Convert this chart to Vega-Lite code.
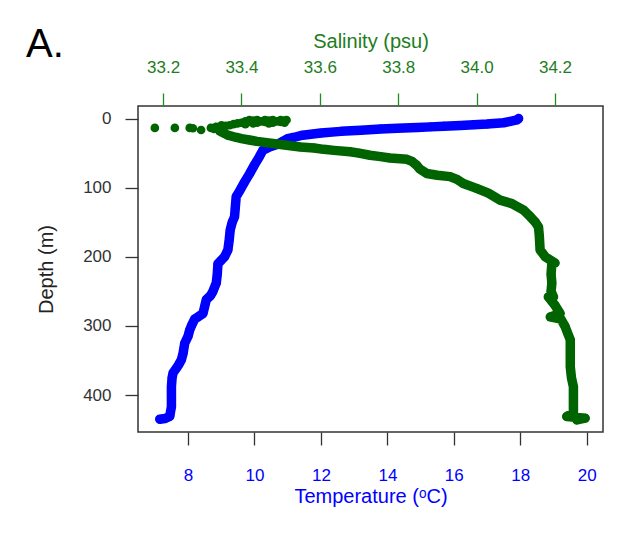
{
  "$schema": "https://vega.github.io/schema/vega-lite/v6.json",
  "autosize": "none",
  "width": 465,
  "height": 326,
  "padding": {"left": 138, "top": 106, "right": 29, "bottom": 103},
  "background": "white",
  "config": {
    "font": "Liberation Sans",
    "view": {"stroke": "#333333", "strokeWidth": 1.5},
    "axis": {"grid": false, "domain": false, "labelFont": "Liberation Sans", "titleFont": "Liberation Sans", "titleFontWeight": "normal"}
  },
  "title": {"text": "A.", "anchor": "start", "frame": "group", "fontSize": 40, "fontWeight": "normal", "font": "Liberation Sans", "color": "#000000", "dx": -112, "dy": 44, "offset": 10},
  "datasets": {
    "temperature": [
      {"depth": 0, "temp": 17.95}, {"depth": 2, "temp": 17.9}, {"depth": 4, "temp": 17.7}, {"depth": 6, "temp": 17.5},
      {"depth": 8, "temp": 17.0}, {"depth": 9, "temp": 16.6}, {"depth": 10, "temp": 16.2}, {"depth": 11, "temp": 15.7},
      {"depth": 12, "temp": 15.3}, {"depth": 13, "temp": 14.9}, {"depth": 14, "temp": 14.3}, {"depth": 15, "temp": 13.8},
      {"depth": 17, "temp": 13.2}, {"depth": 18.5, "temp": 12.6}, {"depth": 21, "temp": 12.0}, {"depth": 24, "temp": 11.45},
      {"depth": 27, "temp": 11.2}, {"depth": 29, "temp": 11.0}, {"depth": 33, "temp": 10.85}, {"depth": 37, "temp": 10.7},
      {"depth": 41, "temp": 10.45}, {"depth": 46, "temp": 10.25}, {"depth": 55, "temp": 10.15}, {"depth": 67, "temp": 10.0},
      {"depth": 80, "temp": 9.85}, {"depth": 92, "temp": 9.7}, {"depth": 104, "temp": 9.56}, {"depth": 113, "temp": 9.45},
      {"depth": 130, "temp": 9.42}, {"depth": 142, "temp": 9.4}, {"depth": 150, "temp": 9.33}, {"depth": 161, "temp": 9.27},
      {"depth": 175, "temp": 9.24}, {"depth": 190, "temp": 9.2}, {"depth": 200, "temp": 9.1}, {"depth": 205, "temp": 9.0},
      {"depth": 210, "temp": 8.9}, {"depth": 225, "temp": 8.88}, {"depth": 238, "temp": 8.85}, {"depth": 250, "temp": 8.75},
      {"depth": 256, "temp": 8.68}, {"depth": 262, "temp": 8.55}, {"depth": 272, "temp": 8.5}, {"depth": 282, "temp": 8.45},
      {"depth": 287, "temp": 8.3}, {"depth": 290, "temp": 8.2}, {"depth": 300, "temp": 8.1}, {"depth": 306, "temp": 8.05},
      {"depth": 315, "temp": 8.0}, {"depth": 325, "temp": 7.9}, {"depth": 340, "temp": 7.85}, {"depth": 349, "temp": 7.8},
      {"depth": 356, "temp": 7.72}, {"depth": 361, "temp": 7.65}, {"depth": 368, "temp": 7.55}, {"depth": 375, "temp": 7.52},
      {"depth": 388, "temp": 7.5}, {"depth": 400, "temp": 7.5}, {"depth": 417, "temp": 7.5}, {"depth": 425, "temp": 7.47},
      {"depth": 431, "temp": 7.45}, {"depth": 434, "temp": 7.3}, {"depth": 435, "temp": 7.15}
    ],
    "salinity": [
      {"depth": 2, "sal": 33.42}, {"depth": 2, "sal": 33.44}, {"depth": 2, "sal": 33.46}, {"depth": 2, "sal": 33.48},
      {"depth": 2, "sal": 33.5}, {"depth": 2, "sal": 33.515}, {"depth": 3, "sal": 33.43}, {"depth": 3, "sal": 33.47},
      {"depth": 3, "sal": 33.51}, {"depth": 4, "sal": 33.41}, {"depth": 4, "sal": 33.45}, {"depth": 4, "sal": 33.49},
      {"depth": 5, "sal": 33.42}, {"depth": 5, "sal": 33.46}, {"depth": 5, "sal": 33.5}, {"depth": 6, "sal": 33.4},
      {"depth": 6, "sal": 33.44}, {"depth": 6, "sal": 33.48}, {"depth": 6, "sal": 33.51}, {"depth": 7, "sal": 33.39},
      {"depth": 7, "sal": 33.43}, {"depth": 7, "sal": 33.47}, {"depth": 8, "sal": 33.38}, {"depth": 8, "sal": 33.41},
      {"depth": 9.7, "sal": 33.37}, {"depth": 9.7, "sal": 33.349}, {"depth": 10.5, "sal": 33.36}, {"depth": 12, "sal": 33.335},
      {"depth": 13.5, "sal": 33.179}, {"depth": 13.5, "sal": 33.23}, {"depth": 13.5, "sal": 33.268}, {"depth": 14, "sal": 33.276},
      {"depth": 16.5, "sal": 33.297}, {"depth": 13.5, "sal": 33.322}, {"depth": 15, "sal": 33.33},
      {"depth": 18, "sal": 33.345}, {"depth": 21, "sal": 33.355}, {"depth": 24, "sal": 33.365}, {"depth": 27, "sal": 33.385},
      {"depth": 29, "sal": 33.4}, {"depth": 31, "sal": 33.42}, {"depth": 33, "sal": 33.44}, {"depth": 36, "sal": 33.48},
      {"depth": 38.6, "sal": 33.515}, {"depth": 41, "sal": 33.55}, {"depth": 42.5, "sal": 33.585}, {"depth": 44.5, "sal": 33.61},
      {"depth": 46, "sal": 33.636}, {"depth": 48, "sal": 33.677}, {"depth": 50, "sal": 33.7}, {"depth": 53, "sal": 33.728},
      {"depth": 55, "sal": 33.755}, {"depth": 57, "sal": 33.779}, {"depth": 59, "sal": 33.822}, {"depth": 62, "sal": 33.835},
      {"depth": 67.5, "sal": 33.847}, {"depth": 73, "sal": 33.855}, {"depth": 79.5, "sal": 33.873}, {"depth": 82, "sal": 33.9},
      {"depth": 84, "sal": 33.932}, {"depth": 88, "sal": 33.95}, {"depth": 94, "sal": 33.966}, {"depth": 101, "sal": 34.0},
      {"depth": 108, "sal": 34.03}, {"depth": 118, "sal": 34.06}, {"depth": 123, "sal": 34.09}, {"depth": 132.5, "sal": 34.12},
      {"depth": 142, "sal": 34.137}, {"depth": 150, "sal": 34.15}, {"depth": 157, "sal": 34.158}, {"depth": 170, "sal": 34.16},
      {"depth": 190, "sal": 34.162}, {"depth": 200, "sal": 34.175}, {"depth": 209.5, "sal": 34.192}, {"depth": 225, "sal": 34.19},
      {"depth": 238, "sal": 34.192}, {"depth": 250, "sal": 34.19}, {"depth": 258, "sal": 34.196}, {"depth": 270, "sal": 34.2},
      {"depth": 282, "sal": 34.213}, {"depth": 290, "sal": 34.215}, {"depth": 301, "sal": 34.226}, {"depth": 310, "sal": 34.232},
      {"depth": 320, "sal": 34.239}, {"depth": 340, "sal": 34.239}, {"depth": 359, "sal": 34.239}, {"depth": 375, "sal": 34.242},
      {"depth": 388, "sal": 34.247}, {"depth": 400, "sal": 34.247}, {"depth": 415, "sal": 34.247}, {"depth": 426, "sal": 34.247},
      {"depth": 431, "sal": 34.23}, {"depth": 433.5, "sal": 34.277}, {"depth": 436, "sal": 34.256},
      {"depth": 287, "sal": 34.188}, {"depth": 258, "sal": 34.183}, {"depth": 209, "sal": 34.2}
    ]
  },
  "layer": [
    {
      "data": {"name": "temperature"},
      "encoding": {
        "x": {"field": "temp", "type": "quantitative", "scale": {"domain": [6.494, 20.49], "nice": false, "zero": false},
          "axis": {"orient": "bottom", "title": "Temperature (ᵒC)", "values": [8, 10, 12, 14, 16, 18, 20], "format": "d",
            "tickSize": 13, "tickColor": "#333333", "tickWidth": 1.3, "labelFontSize": 17, "labelColor": "#0000FF", "labelPadding": 22,
            "titleFontSize": 20, "titleColor": "#0000FF", "titlePadding": 3}},
        "y": {"field": "depth", "type": "quantitative", "scale": {"domain": [-18.2, 453.5], "nice": false, "zero": false, "reverse": true},
          "axis": {"orient": "left", "title": "Depth (m)", "values": [0, 100, 200, 300, 400], "tickSize": 13, "tickColor": "#333333", "tickWidth": 1.3,
            "labelFontSize": 17, "labelColor": "#333333", "labelPadding": 14, "titleFontSize": 20, "titleColor": "#222222", "titlePadding": 26}}
      },
      "layer": [
        {"mark": {"type": "line", "color": "#0000FF", "strokeWidth": 9.5, "strokeCap": "round", "strokeJoin": "round"},
          "encoding": {"order": {"field": "depth", "type": "quantitative"}}},
        {"mark": {"type": "point", "filled": true, "color": "#0000FF", "size": 75, "opacity": 1}}
      ]
    },
    {
      "data": {"name": "salinity"},
      "encoding": {
        "x": {"field": "sal", "type": "quantitative", "scale": {"domain": [33.136, 34.3225], "nice": false, "zero": false},
          "axis": {"orient": "top", "title": "Salinity (psu)", "values": [33.2, 33.4, 33.6, 33.8, 34.0, 34.2], "format": ".1f",
            "tickSize": 13, "tickColor": "#228B22", "tickWidth": 1.3, "labelFontSize": 17, "labelColor": "#1E7D1E", "labelPadding": 17,
            "titleFontSize": 20, "titleColor": "#1E7D1E", "titlePadding": 7}},
        "y": {"field": "depth", "type": "quantitative"}
      },
      "layer": [
        {"transform": [{"filter": "datum.depth >= 18"}],
          "mark": {"type": "line", "color": "#006400", "strokeWidth": 9.5, "strokeCap": "round", "strokeJoin": "round"},
          "encoding": {"order": {"field": "depth", "type": "quantitative"}}},
        {"mark": {"type": "point", "filled": true, "color": "#006400", "size": 75, "opacity": 1}}
      ]
    }
  ],
  "resolve": {"scale": {"x": "independent"}, "axis": {"x": "independent"}}
}
